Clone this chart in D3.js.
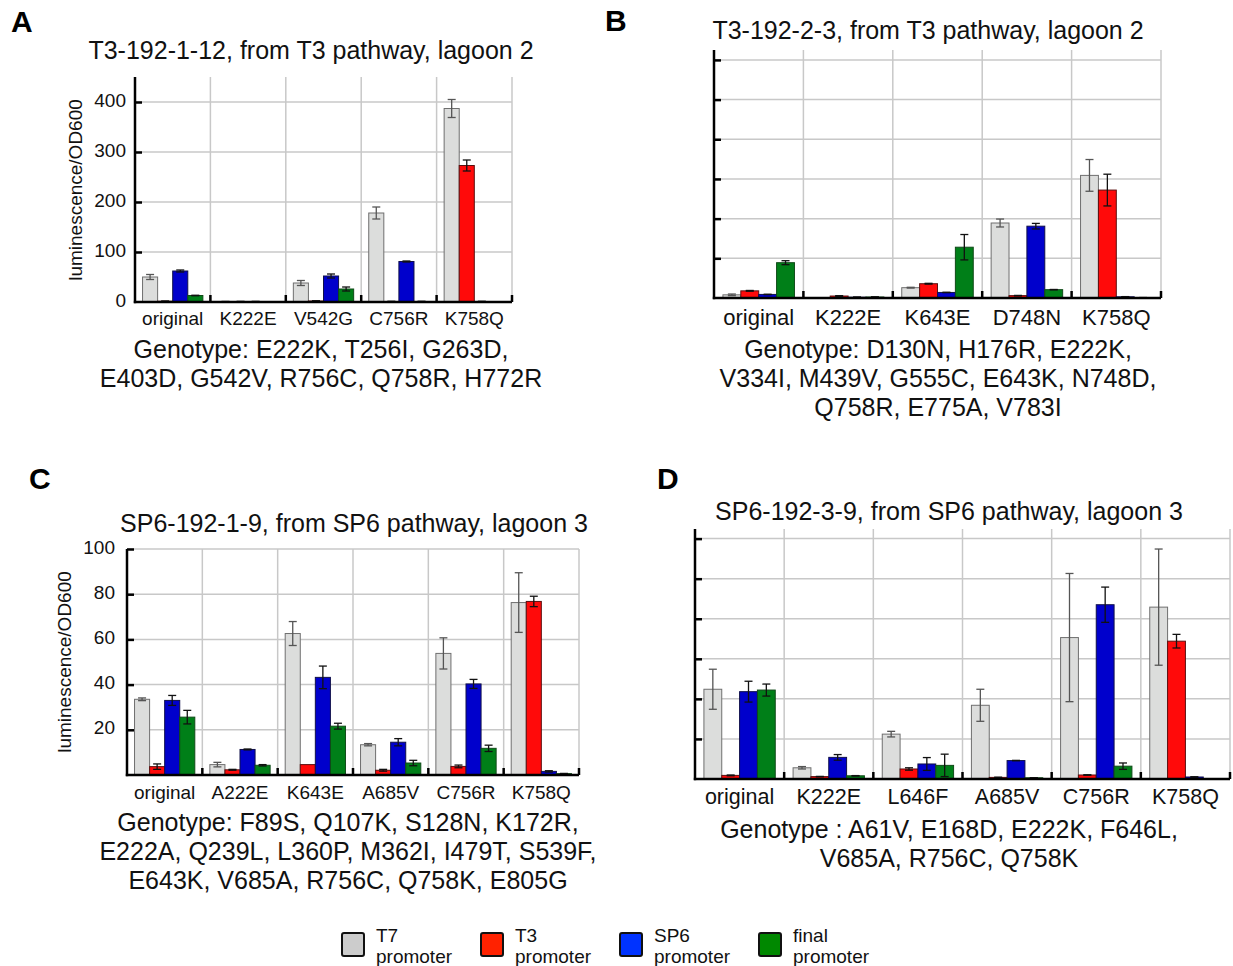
<!DOCTYPE html>
<html>
<head>
<meta charset="utf-8">
<script src="https://cdn.jsdelivr.net/npm/d3@7"></script>
<style>
  html, body { margin: 0; padding: 0; background: #fff; }
  svg { display: block; font-family: "Liberation Sans", Arial, Helvetica, sans-serif; }
</style>
</head>
<body>
<svg id="chart" width="1233" height="966"></svg>
<script>
// ---------------- DATA ----------------
const seriesNames = ["T7 promoter", "T3 promoter", "SP6 promoter", "final promoter"];

// Panel A: T3-192-1-12
const aCategories = ["original", "K222E", "V542G", "C756R", "K758Q"];
const aMeans = [[50, 1.5, 62, 13], [1, 1, 1, 0.5], [38, 2, 52, 26], [178, 1, 81, 1], [387, 273, 1, 0.3]];
const aErrors = [[5, 0.5, 2, 0.5], [0.3, 0.3, 0.3, 0.2], [5, 0.5, 4, 4], [12, 0.5, 1, 0.5], [18, 11, 0.5, 0]];
const aTicks = [0, 100, 200, 300, 400];
const aTickLabels = ["0", "100", "200", "300", "400"];
const aGenotype = ["Genotype: E222K, T256I, G263D,", "E403D, G542V, R756C, Q758R, H772R"];

// Panel B: T3-192-2-3
const bCategories = ["original", "K222E", "K643E", "D748N", "K758Q"];
const bMeans = [[8, 18, 9, 89], [0.5, 5, 2, 2.5], [26, 36, 14, 128], [189, 6, 181, 21], [309, 272, 3, 1]];
const bErrors = [[2, 1, 0.5, 5], [0.2, 1, 0.3, 0.3], [1, 1, 0.5, 32], [10, 0.5, 7, 0.5], [40, 40, 0.5, 0.2]];
const bTicks = [100, 200, 300, 400, 500, 600];
const bTickLabels = ["", "", "", "", "", ""];
const bGenotype = ["Genotype: D130N, H176R, E222K,", "V334I, M439V, G555C, E643K, N748D,", "Q758R, E775A, V783I"];

// Panel C: SP6-192-1-9
const cCategories = ["original", "A222E", "K643E", "A685V", "C756R", "K758Q"];
const cMeans = [[33.5, 3.7, 33, 25.6], [4.6, 2.3, 11.3, 4.3], [62.6, 4.6, 43.2, 21.6], [13.4, 2.1, 14.5, 5.3], [53.8, 3.8, 40.3, 11.8], [76.3, 76.8, 1.6, 0.6]];
const cErrors = [[0.6, 1.2, 2.2, 3], [1, 0.2, 0.2, 0.3], [5.3, 0, 5, 1.3], [0.5, 0.4, 1.6, 1.2], [6.9, 0.6, 2, 1.4], [13.2, 2.3, 0.3, 0.1]];
const cTicks = [20, 40, 60, 80, 100];
const cTickLabels = ["20", "40", "60", "80", "100"];
const cGenotype = ["Genotype: F89S, Q107K, S128N, K172R,", "E222A, Q239L, L360P, M362I, I479T, S539F,", "E643K, V685A, R756C, Q758K, E805G"];

// Panel D: SP6-192-3-9
const dCategories = ["original", "K222E", "L646F", "A685V", "C756R", "K758Q"];
const dMeans = [[224, 9, 218, 222], [28, 6, 54, 8], [112, 25, 37.5, 34], [184, 4, 46, 3], [353, 10, 435, 32], [429, 344, 5, 0.5]];
const dErrors = [[50, 1, 26, 15], [3, 0.5, 7, 0.5], [7, 3, 16, 28], [40, 0.5, 0.5, 0.2], [160, 0.5, 44, 8], [145, 17, 0.5, 0]];
const dTicks = [100, 200, 300, 400, 500, 600];
const dTickLabels = ["", "", "", "", "", ""];
const dGenotype = ["Genotype : A61V, E168D, E222K, F646L,", "V685A, R756C, Q758K"];

// ---------------- STYLE / LAYOUT ----------------
const barFill = ["#dcdddc", "#ff0a0a", "#0000cc", "#007f18"];
const barStroke = ["#6f6f6f", "#5a1010", "#10104a", "#104a18"];
const errColor = ["#555", "#111", "#111", "#111"];
const legendFill = ["#cccccc", "#ff2200", "#0033ff", "#008800"];

const svg = d3.select("#chart");
svg.append("rect").attr("width", 1233).attr("height", 966).attr("fill", "#fff");

function drawPanel(p) {
  const g = svg.append("g");
  const x = d3.scaleBand().domain(p.categories).range([p.x0, p.x1]).padding(0);
  const xs = d3.scaleBand().domain(d3.range(4)).range([0, x.bandwidth()]).paddingInner(0).paddingOuter(0.5);
  const y = d3.scaleLinear().domain([0, p.yMax]).range([p.yBase, p.yTop]);

  // horizontal grid
  g.selectAll(".hg").data(p.ticks.filter(t => t > 0)).join("line")
    .attr("x1", p.x0).attr("x2", p.x1)
    .attr("y1", d => y(d)).attr("y2", d => y(d))
    .attr("stroke", "#c8c8c8").attr("stroke-width", 1.5);
  // vertical grid
  g.selectAll(".vg").data(p.categories).join("line")
    .attr("x1", d => x(d) + x.bandwidth()).attr("x2", d => x(d) + x.bandwidth())
    .attr("y1", p.yTop).attr("y2", p.yBase)
    .attr("stroke", "#c8c8c8").attr("stroke-width", 1.5);

  // bars
  const rows = [];
  p.categories.forEach((c, i) => {
    p.means[i].forEach((m, j) => rows.push({ c, j, m, e: p.errors[i][j] }));
  });
  g.selectAll(".bar").data(rows).join("rect")
    .attr("x", d => x(d.c) + xs(d.j))
    .attr("y", d => y(d.m))
    .attr("width", xs.bandwidth())
    .attr("height", d => Math.max(0, p.yBase - y(d.m)))
    .attr("fill", d => barFill[d.j])
    .attr("stroke", d => barStroke[d.j])
    .attr("stroke-width", 1);

  // error bars
  const eb = g.selectAll(".eb").data(rows.filter(d => d.e > 0)).join("g")
    .attr("stroke", d => errColor[d.j]).attr("stroke-width", 1.3).attr("fill", "none");
  const cx = d => x(d.c) + xs(d.j) + xs.bandwidth() / 2;
  eb.append("line").attr("x1", cx).attr("x2", cx)
    .attr("y1", d => y(d.m + d.e)).attr("y2", d => y(Math.max(0, d.m - d.e)));
  eb.append("line").attr("x1", d => cx(d) - 4).attr("x2", d => cx(d) + 4)
    .attr("y1", d => y(d.m + d.e)).attr("y2", d => y(d.m + d.e));
  eb.append("line").attr("x1", d => cx(d) - 4).attr("x2", d => cx(d) + 4)
    .attr("y1", d => y(Math.max(0, d.m - d.e))).attr("y2", d => y(Math.max(0, d.m - d.e)));

  // axes (inward ticks)
  const yAxis = d3.axisRight(y).tickValues(p.ticks.filter(t => t > 0)).tickSize(7).tickFormat("");
  const ya = g.append("g").attr("transform", `translate(${p.x0},0)`).call(yAxis);
  ya.select(".domain").remove();
  ya.selectAll("line").attr("stroke", "#000").attr("stroke-width", 2.5);
  const xAxis = d3.axisTop(x).tickSize(7).tickFormat("");
  const xa = g.append("g").attr("transform", `translate(0,${p.yBase})`).call(xAxis);
  xa.select(".domain").remove();
  xa.selectAll(".tick line").attr("stroke", "#000").attr("stroke-width", 2.5)
    .attr("transform", `translate(${x.bandwidth() / 2},0)`);
  g.append("line").attr("x1", p.x0).attr("x2", p.x0).attr("y1", p.yTop).attr("y2", p.yBase + 1.2)
    .attr("stroke", "#000").attr("stroke-width", 2.5);
  g.append("line").attr("x1", p.x0 - 1.2).attr("x2", p.x1).attr("y1", p.yBase).attr("y2", p.yBase)
    .attr("stroke", "#000").attr("stroke-width", 2.5);

  // y tick labels
  g.selectAll(".tl").data(p.ticks).join("text")
    .attr("x", p.x0 - p.tickGap).attr("y", d => y(d) - 2).attr("dy", "0.35em")
    .attr("text-anchor", "end").attr("font-size", 19).attr("fill", "#111")
    .text((d, i) => p.tickLabels[i]);

  // category labels
  g.selectAll(".cl").data(p.categories).join("text")
    .attr("x", d => x(d) + x.bandwidth() / 2).attr("y", p.catY).attr("dy", "0.35em")
    .attr("text-anchor", "middle").attr("font-size", p.catSize).attr("fill", "#111")
    .text(d => d);

  // y label
  if (p.yLabel) {
    g.append("text")
      .attr("transform", `translate(${p.yLabel.x},${p.yLabel.y}) rotate(-90)`)
      .attr("dy", "0.35em").attr("text-anchor", "middle").attr("font-size", 19).attr("fill", "#111")
      .text("luminescence/OD600");
  }

  // title
  g.append("text").attr("x", p.titleX).attr("y", p.titleY).attr("dy", "0.35em")
    .attr("text-anchor", "middle").attr("font-size", 25).attr("fill", "#111").text(p.title);
  // genotype
  g.selectAll(".gt").data(p.genotype).join("text")
    .attr("x", p.genoX).attr("y", (d, i) => p.genoY + i * 29).attr("dy", "0.35em")
    .attr("text-anchor", "middle").attr("font-size", 25).attr("fill", "#111").text(d => d);
  // panel letter
  g.append("text").attr("x", p.letterX).attr("y", p.letterY)
    .attr("font-size", 30).attr("font-weight", "bold").attr("fill", "#000").text(p.letter);
}

drawPanel({
  letter: "A", letterX: 11, letterY: 32,
  title: "T3-192-1-12, from T3 pathway, lagoon 2", titleX: 311, titleY: 50,
  categories: aCategories, means: aMeans, errors: aErrors, ticks: aTicks, tickLabels: aTickLabels,
  genotype: aGenotype, genoX: 321, genoY: 349,
  x0: 135, x1: 512, yTop: 77, yBase: 302, yMax: 450, tickGap: 9,
  catY: 318, catSize: 19, yLabel: { x: 75, y: 190 }
});
drawPanel({
  letter: "B", letterX: 605, letterY: 31,
  title: "T3-192-2-3, from T3 pathway, lagoon 2", titleX: 928, titleY: 30,
  categories: bCategories, means: bMeans, errors: bErrors, ticks: bTicks, tickLabels: bTickLabels,
  genotype: bGenotype, genoX: 938, genoY: 349,
  x0: 714, x1: 1161, yTop: 50, yBase: 298, yMax: 625, tickGap: 9,
  catY: 317, catSize: 22, yLabel: null
});
drawPanel({
  letter: "C", letterX: 29, letterY: 489,
  title: "SP6-192-1-9, from SP6 pathway, lagoon 3", titleX: 354, titleY: 523,
  categories: cCategories, means: cMeans, errors: cErrors, ticks: cTicks, tickLabels: cTickLabels,
  genotype: cGenotype, genoX: 348, genoY: 822,
  x0: 127, x1: 579, yTop: 549, yBase: 775, yMax: 100, tickGap: 12,
  catY: 792, catSize: 19, yLabel: { x: 64, y: 662 }
});
drawPanel({
  letter: "D", letterX: 657, letterY: 489,
  title: "SP6-192-3-9, from SP6 pathway, lagoon 3", titleX: 949, titleY: 511,
  categories: dCategories, means: dMeans, errors: dErrors, ticks: dTicks, tickLabels: dTickLabels,
  genotype: dGenotype, genoX: 949, genoY: 829,
  x0: 695, x1: 1230, yTop: 529, yBase: 779, yMax: 624, tickGap: 9,
  catY: 796, catSize: 21.5, yLabel: null
});

// legend
const legendX = [342, 481, 620, 759];
const lg = svg.append("g").selectAll("g").data(seriesNames).join("g")
  .attr("transform", (d, i) => `translate(${legendX[i]},933)`);
lg.append("rect").attr("width", 22).attr("height", 23).attr("rx", 2)
  .attr("fill", (d, i) => legendFill[i]).attr("stroke", "#111").attr("stroke-width", 2);
lg.append("text").attr("x", 34).attr("y", 9).attr("font-size", 19).attr("fill", "#111")
  .text(d => d.split(" ")[0]);
lg.append("text").attr("x", 34).attr("y", 30).attr("font-size", 19).attr("fill", "#111")
  .text(d => d.split(" ")[1]);
</script>
</body>
</html>
